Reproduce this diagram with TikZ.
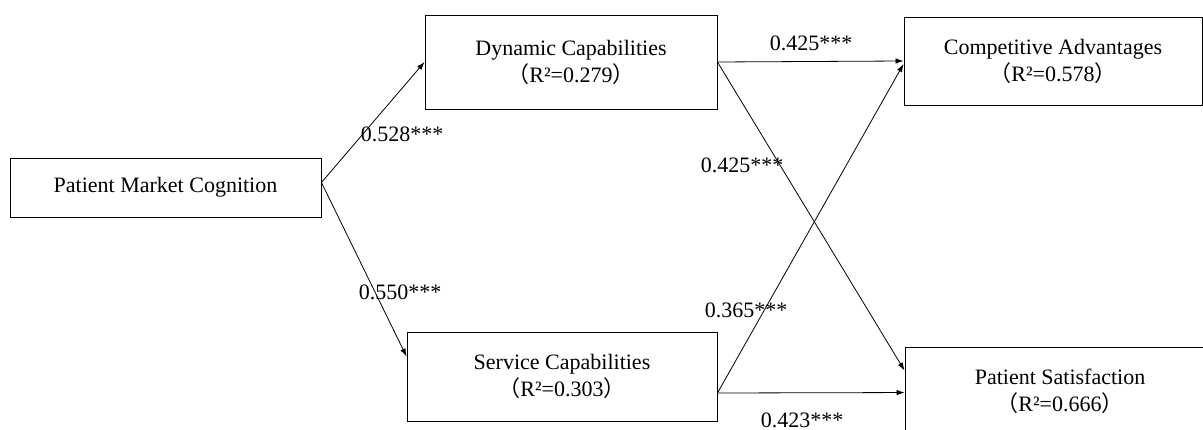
\documentclass[tikz,border=0pt]{standalone}
\usepackage{fontspec}
\setmainfont{Liberation Serif}
\newfontfamily\cjk{Noto Sans CJK SC}
\usetikzlibrary{arrows.meta,calc}

% full-width parentheses around the R-squared values
\newcommand{\rsq}[1]{{\cjk （}R²=#1{\cjk ）}}

\begin{document}
\begin{tikzpicture}[x=1pt,y=-1pt,
  every node/.style={font=\fontsize{22}{27}\selectfont},
  box/.style={draw, line width=0.9pt, align=center, inner sep=0pt},
  coef/.style={inner sep=0pt},
  link/.style={line width=0.8pt, -{Latex[length=8pt,width=5.5pt]}}]

\useasboundingbox (0,0) rectangle (1203,430);
\clip (0,0) rectangle (1203,430);

% constructs
\node[box, minimum width=311pt, minimum height=59pt] (pmc) at (165.5,187.5) {Patient Market Cognition};
\node[box, minimum width=292pt, minimum height=94pt] (dc) at (571,62) {Dynamic Capabilities\\\rsq{0.279}};
\node[box, minimum width=298pt, minimum height=88pt] (ca) at (1053,61) {Competitive Advantages\\\rsq{0.578}};
\node[box, minimum width=310pt, minimum height=89pt] (sc) at (562,376.5) {Service Capabilities\\\rsq{0.303}};
\node[box, minimum width=310pt, minimum height=88pt] (ps) at (1060,391) {Patient Satisfaction\\\rsq{0.666}};

% connector end points
\coordinate (pmcout) at ($(pmc.east)+(0,-5)$);
\coordinate (scin) at ($(sc.north west)+(0,25)$);
\coordinate (scout) at ($(sc.east)+(0,16.5)$);
\coordinate (psin1) at ($(ps.north west)+(0,24)$);
\coordinate (psin2) at ($(ps.north west)+(0,46)$);
\coordinate (cain) at ($(ca.west)+(0,3)$);

% paths
\draw[link] (pmcout) -- (dc.west);
\draw[link] (pmcout) -- (scin);
\draw[link] (dc.east) -- (ca.west);
\draw[link] (dc.east) -- (psin1);
\draw[link] (scout) -- (cain);
\draw[link] (scout) -- (psin2);

% path coefficients
\node[coef] (c1) at (402,134) {0.528***};
\node[coef] (c2) at (400,292) {0.550***};
\node[coef] (c3) at (811,43) {0.425***};
\node[coef] (c4) at (742,165) {0.425***};
\node[coef] (c5) at (746,310) {0.365***};
\node[coef] (c6) at (802,420) {0.423***};
\end{tikzpicture}
\end{document}
